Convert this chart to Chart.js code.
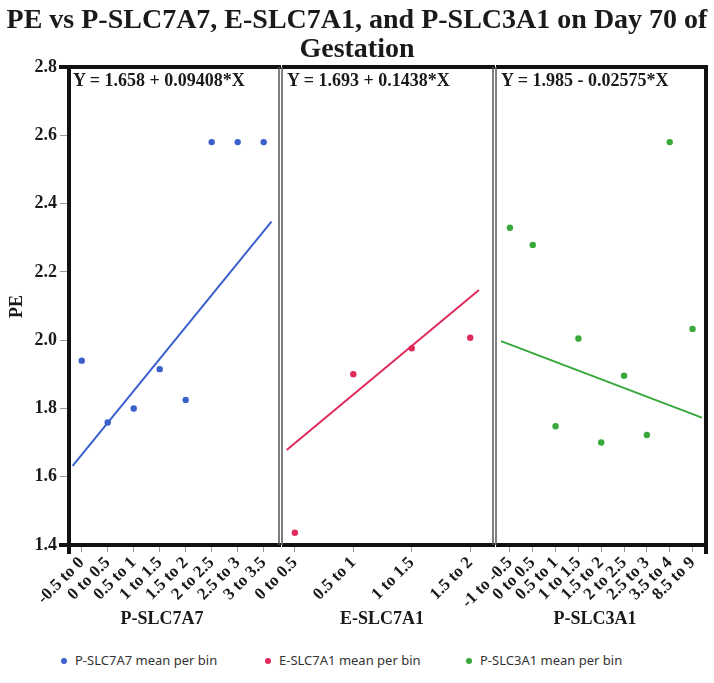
<!DOCTYPE html>
<html>
<head>
<meta charset="utf-8">
<script src="https://cdn.jsdelivr.net/npm/chart.js@4.4.1/dist/chart.umd.min.js"></script>
<style>
  body { margin: 0; background: #fff; }
  #wrap { position: relative; width: 714px; height: 683px; overflow: hidden; }
  canvas { position: absolute; top: 0; left: 0; }
  .serif { font-family: "Liberation Serif", "Times New Roman", serif; font-weight: bold; color: #1a1a1a; position: absolute; }
  #title { left: 0; top: 4px; width: 714px; text-align: center; font-size: 28px; line-height: 29px; }
  .eq { top: 70px; font-size: 18px; white-space: nowrap; }
  .xtitle { top: 608px; font-size: 18px; width: 200px; text-align: center; }
  #ytitle { left: 5px; top: 296px; font-size: 18px; transform: rotate(-90deg); transform-origin: center; }
  .leg { position: absolute; top: 651px; font-family: "Noto Sans", sans-serif; font-size: 13px; color: #333; white-space: nowrap; }
  .leg i { display: inline-block; width: 6px; height: 6px; border-radius: 50%; margin-right: 8px; vertical-align: middle; position: relative; top: -1px; }
</style>
</head>
<body>
<div id="wrap">
  <canvas id="p1" width="714" height="640"></canvas>
  <canvas id="p2" width="714" height="640"></canvas>
  <canvas id="p3" width="714" height="640"></canvas>
  <div id="title" class="serif">PE vs P-SLC7A7, E-SLC7A1, and P-SLC3A1 on Day 70 of<br>Gestation</div>
  <div class="serif eq" style="left:73px">Y = 1.658 + 0.09408*X</div>
  <div class="serif eq" style="left:287px">Y = 1.693 + 0.1438*X</div>
  <div class="serif eq" style="left:501px">Y = 1.985 - 0.02575*X</div>
  <div id="ytitle" class="serif">PE</div>
  <div class="serif xtitle" style="left:62px">P-SLC7A7</div>
  <div class="serif xtitle" style="left:282px">E-SLC7A1</div>
  <div class="serif xtitle" style="left:495px">P-SLC3A1</div>
  <div class="leg" style="left:61px"><i style="background:#3b5fcc"></i>P-SLC7A7 mean per bin</div>
  <div class="leg" style="left:265px"><i style="background:#e02a5a"></i>E-SLC7A1 mean per bin</div>
  <div class="leg" style="left:466px"><i style="background:#38a83a"></i>P-SLC3A1 mean per bin</div>
</div>
<script>
// y axis
const yTicks = [1.4, 1.6, 1.8, 2.0, 2.2, 2.4, 2.6, 2.8];

// P-SLC7A7 bins
const binsA = ['-0.5 to 0', '0 to 0.5', '0.5 to 1', '1 to 1.5', '1.5 to 2', '2 to 2.5', '2.5 to 3', '3 to 3.5'];
const peA = [1.94, 1.759, 1.80, 1.915, 1.825, 2.58, 2.58, 2.58];
const fitAx = [-0.35, 7.3];
const fitAy = [1.632, 2.347];

// E-SLC7A1 bins
const binsB = ['0 to 0.5', '0.5 to 1', '1 to 1.5', '1.5 to 2'];
const peB = [1.436, 1.90, 1.976, 2.007];
const fitBx = [-0.14, 3.15];
const fitBy = [1.678, 2.147];

// P-SLC3A1 bins
const binsC = ['-1 to -0.5', '0 to 0.5', '0.5 to 1', '1 to 1.5', '1.5 to 2', '2 to 2.5', '2.5 to 3', '3.5 to 4', '8.5 to 9'];
const peC = [2.329, 2.279, 1.748, 2.005, 1.70, 1.896, 1.722, 2.58, 2.033];
const fitCx = [-0.39, 8.41];
const fitCy = [1.997, 1.773];

const serif = "'Liberation Serif', 'Times New Roman', serif";

// draws the panel box, thick black on the outer sides, grey between panels
const frame = {
  id: 'frame',
  afterDraw(chart, args, o) {
    const a = chart.chartArea, c = chart.ctx;
    c.save();
    c.lineCap = 'butt';
    function line(x1, y1, x2, y2, w, col) {
      c.beginPath(); c.lineWidth = w; c.strokeStyle = col;
      c.moveTo(x1, y1); c.lineTo(x2, y2); c.stroke();
    }
    const ext = o.first ? 10 : 0;
    line(a.left - ext, a.top, a.right + 2, a.top, 4, '#111');
    line(a.left - ext, a.bottom, a.right + 2, a.bottom, 4, '#111');
    if (o.first) line(a.left, a.top - 2, a.left, a.bottom + 9, 4, '#111');
    else line(a.left, a.top, a.left, a.bottom, 1.5, '#555');
    if (o.last) line(a.right, a.top - 2, a.right, a.bottom + 9, 4, '#111');
    else line(a.right, a.top, a.right, a.bottom, 1.5, '#555');
    c.restore();
  }
};

// pad = [left, right] inside the shared 714px canvas
function makePanel(id, bins, pe, fitX, fitY, color, xMin, xMax, pad, first, last) {
  const pts = pe.map((v, i) => ({ x: i, y: v }));
  const fit = fitX.map((v, i) => ({ x: v, y: fitY[i] }));
  return new Chart(document.getElementById(id), {
    type: 'scatter',
    data: {
      datasets: [
        { data: pts, backgroundColor: color, borderWidth: 0, pointRadius: 3.2 },
        { type: 'line', data: fit, borderColor: color, borderWidth: 2, pointRadius: 0, fill: false }
      ]
    },
    options: {
      responsive: false,
      animation: false,
      layout: { padding: { top: 67, left: pad[0], right: pad[1], bottom: 0 } },
      plugins: { legend: { display: false }, tooltip: { enabled: false }, frame: { first: first, last: last } },
      scales: {
        x: {
          type: 'linear', min: xMin, max: xMax,
          afterBuildTicks: s => { s.ticks = bins.map((b, i) => ({ value: i })); },
          afterFit: s => { s.height = 95; s.paddingLeft = 0; s.paddingRight = 0; },
          ticks: {
            autoSkip: false, minRotation: 45, maxRotation: 45, padding: 1,
            color: '#1a1a1a', font: { family: serif, size: 17, weight: 'bold' },
            callback: v => bins[v]
          },
          grid: { drawOnChartArea: false, tickLength: 7, color: '#999' },
          border: { display: false }
        },
        y: {
          display: first, min: 1.4, max: 2.8,
          afterBuildTicks: s => { s.ticks = yTicks.map(v => ({ value: v })); },
          afterFit: s => { s.width = first ? 69 : 0; },
          ticks: {
            padding: 3, color: '#1a1a1a', font: { family: serif, size: 18, weight: 'bold' },
            callback: v => v.toFixed(1)
          },
          grid: { drawOnChartArea: false, tickLength: 9, color: '#999' },
          border: { display: false }
        }
      }
    },
    plugins: [frame]
  });
}

makePanel('p1', binsA, peA, fitAx, fitAy, '#3b5fcc', -0.49, 7.59, [0, 435], true, false);
makePanel('p2', binsB, peB, fitBx, fitBy, '#e02a5a', -0.22, 3.39, [282, 221], false, false);
makePanel('p3', binsC, peC, fitCx, fitCy, '#38a83a', -0.61, 8.59, [496, 8], false, true);
</script>
</body>
</html>
